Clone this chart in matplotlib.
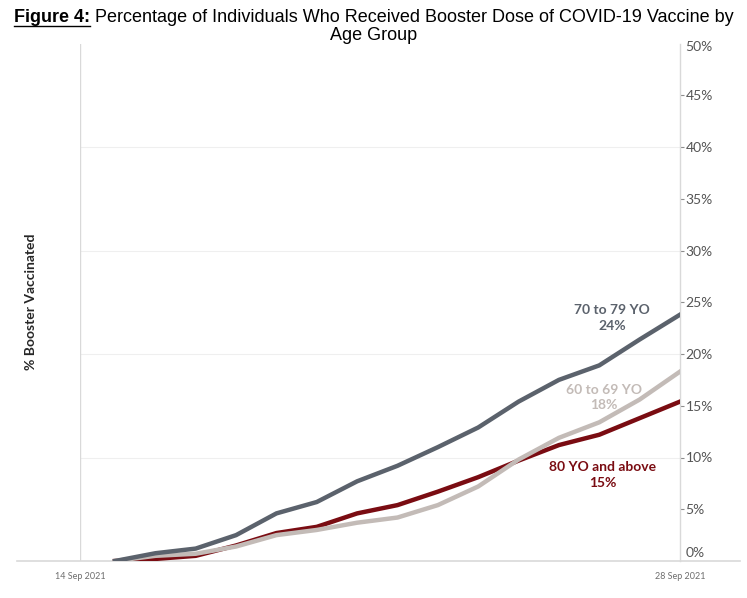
import matplotlib
matplotlib.use("Agg")
import matplotlib.pyplot as plt
from matplotlib.lines import Line2D
import matplotlib.transforms as mtransforms
import numpy as np

# daily booster coverage (%) by age group, 15 reporting points
days = np.arange(15)
age_70_79 = [0, 0.75, 1.2, 2.5, 4.6, 5.7, 7.7, 9.2, 11.0, 12.9, 15.4, 17.5, 18.9, 21.4, 23.8]
age_60_69 = [0, 0.5, 0.7, 1.4, 2.5, 3.0, 3.7, 4.2, 5.4, 7.2, 9.8, 11.9, 13.4, 15.6, 18.3]
age_80_plus = [0, 0.2, 0.5, 1.5, 2.7, 3.3, 4.6, 5.4, 6.7, 8.1, 9.7, 11.2, 12.2, 13.8, 15.4]

group_names = ["70 to 79 YO", "60 to 69 YO", "80 YO and above"]
end_labels = ["24%", "18%", "15%"]
date_labels = ["14 Sep 2021", "28 Sep 2021"]
y_ticks = [0, 5, 10, 15, 20, 25, 30, 35, 40, 45, 50]

C_DARK = "#5b626c"
C_LIGHT = "#c3bbb7"
C_RED = "#7a0c12"
GRID = "#d9d9d9"

LABEL_FONT = ["Lato", "DejaVu Sans"]
TITLE_FONT = ["Liberation Sans Narrow", "Liberation Sans", "DejaVu Sans"]

fig = plt.figure(figsize=(7.47, 5.98), dpi=100)
ax = fig.add_axes([80 / 747, 1 - 561 / 598, 600 / 747, 517.5 / 598])

ax.plot(days, age_80_plus, color=C_RED, lw=3.2, solid_joinstyle="round", zorder=3)
ax.plot(days, age_60_69, color=C_LIGHT, lw=3.2, solid_joinstyle="round", zorder=4)
ax.plot(days, age_70_79, color=C_DARK, lw=3.2, solid_joinstyle="round", zorder=5)

x_left = -35 / 40.36
ax.set_xlim(x_left, days[-1])
ax.set_ylim(0, 50)

# faint horizontal gridlines every 10%
for v in [10, 20, 30, 40]:
    ax.axhline(v, color="#efefef", lw=0.8, zorder=1)

for s in ["top", "bottom", "left"]:
    ax.spines[s].set_visible(False)
ax.spines["right"].set_color(GRID)
ax.spines["right"].set_linewidth(1.0)
ax.axvline(x_left, color=GRID, lw=1.0, zorder=1)
ax.axhline(0, xmin=-0.105, xmax=1.10, color=GRID, lw=1.2, clip_on=False, zorder=1)

ax.yaxis.tick_right()
ax.set_yticks(y_ticks)
ax.set_yticklabels([f"{v}%" for v in y_ticks], fontsize=10, color="#555555",
                   family=LABEL_FONT)
ax.tick_params(axis="y", length=3, width=0.8, color="#8c8c8c", pad=1)
yt = ax.yaxis.get_major_ticks()
for t in (yt[0], yt[-1]):
    t.tick2line.set_visible(False)
# end labels nudged inside the frame like the original
shift_up = mtransforms.ScaledTranslation(0, 9 / 100, fig.dpi_scale_trans)
shift_dn = mtransforms.ScaledTranslation(0, -2.5 / 100, fig.dpi_scale_trans)
yt[0].label2.set_transform(yt[0].label2.get_transform() + shift_up)
yt[-1].label2.set_transform(yt[-1].label2.get_transform() + shift_dn)

ax.set_xticks([x_left, days[-1]])
ax.set_xticklabels(date_labels, fontsize=6.5, color="#6e6e6e", family=LABEL_FONT)
ax.tick_params(axis="x", length=0, pad=8)

fig.text(31 / 747, 1 - 302 / 598, "% Booster Vaccinated", rotation=90,
         ha="center", va="center", fontsize=10, fontweight="bold",
         color="#262626", family=LABEL_FONT)

# end-of-line annotations
for name, val, color, (xp, yp) in zip(
        group_names, end_labels, [C_DARK, C_LIGHT, C_RED],
        [(12.31, 23.5), (12.12, 15.8), (12.09, 8.3)]):
    ax.text(xp, yp, f"{name}\n{val}", ha="center", va="center", fontsize=10,
            fontweight="bold", color=color, linespacing=1.35,
            family=LABEL_FONT, zorder=6)

# title: bold underlined "Figure 4:" followed by plain text
renderer = fig.canvas.get_renderer()
part1 = fig.text(0, 0, "Figure 4:", fontsize=13, fontweight="bold", family=TITLE_FONT)
part2 = fig.text(0, 0, " Percentage of Individuals Who Received Booster Dose of COVID-19 Vaccine by",
                 fontsize=13, family=TITLE_FONT)
w1 = part1.get_window_extent(renderer).width
w2 = part2.get_window_extent(renderer).width
fw = fig.bbox.width
x0 = (fw - w1 - w2) / 2 / fw
y1 = 1 - 17 / 598
part1.set_position((x0, y1))
part1.set_va("center")
part2.set_position((x0 + w1 / fw, y1))
part2.set_va("center")
fig.add_artist(Line2D([x0, x0 + w1 / fw], [y1 - 9 / 598, y1 - 9 / 598],
                      color="black", lw=1.0, transform=fig.transFigure))
fig.text(0.5, 1 - 36 / 598, "Age Group", ha="center", va="center",
         fontsize=13, family=TITLE_FONT)

fig.savefig("out.png", dpi=100)
